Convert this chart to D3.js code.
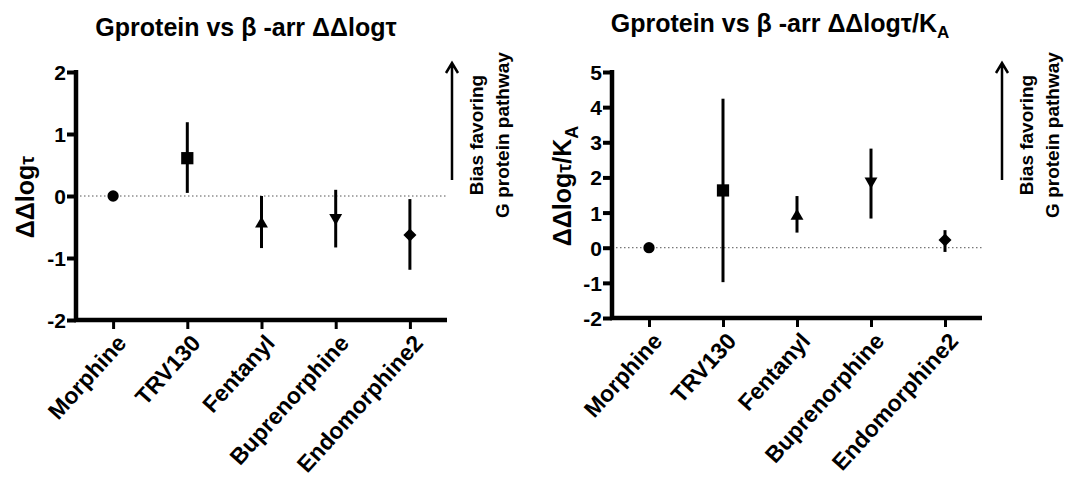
<!DOCTYPE html>
<html>
<head>
<meta charset="utf-8">
<script src="https://cdn.jsdelivr.net/npm/d3@7"></script>
<style>
  body { margin: 0; background: #fff; }
  svg { display: block; }
  text { font-family: Arial, "Liberation Sans", sans-serif; font-weight: bold; fill: #000; }
</style>
</head>
<body>
<svg id="chart" width="1067" height="481"></svg>
<script>
// categories and marker shapes
const drugs = ['Morphine', 'TRV130', 'Fentanyl', 'Buprenorphine', 'Endomorphine2'];
const shapes = ['circle', 'square', 'up', 'down', 'diamond'];

// left panel: ΔΔlogτ (mean, lower and upper error)
const tauMean = [0, 0.61, -0.45, -0.35, -0.63];
const tauLow = [0, 0.05, -0.84, -0.83, -1.19];
const tauHigh = [0, 1.19, 0.0, 0.1, -0.05];
const tauTicks = [-2, -1, 0, 1, 2];

// right panel: ΔΔlogτ/KA
const kaMean = [0, 1.63, 0.9, 1.89, 0.22];
const kaLow = [0, -0.98, 0.43, 0.83, -0.12];
const kaHigh = [0, 4.24, 1.47, 2.82, 0.5];
const kaTicks = [-2, -1, 0, 1, 2, 3, 4, 5];

const svg = d3.select('#chart');
const font = 'Arial, "Liberation Sans", sans-serif';

const symbolFor = (s) => {
  if (s === 'circle') return d3.symbol(d3.symbolCircle, 100)();
  if (s === 'square') return d3.symbol(d3.symbolSquare, 150)();
  if (s === 'diamond') return d3.symbol(d3.symbolSquare, 85)();
  return d3.symbol(d3.symbolTriangle, 72)();
};
const rotFor = (s) => (s === 'down' ? 180 : s === 'diamond' ? 45 : 0);

const drawPanel = (p) => {
  const g = svg.append('g');
  const x = d3.scalePoint().domain(drugs).range([p.left, p.right]).padding(0.5);
  const y = d3.scaleLinear().domain(d3.extent(p.ticks)).range([p.bottom, p.top]);

  // zero reference line
  g.append('line')
    .attr('x1', p.left).attr('x2', p.right)
    .attr('y1', y(0)).attr('y2', y(0))
    .attr('stroke', '#555').attr('stroke-width', 1)
    .attr('stroke-dasharray', '1.5,2.5');

  // y axis
  const ya = g.append('g')
    .attr('transform', `translate(${p.left},0)`)
    .call(d3.axisLeft(y).tickValues(p.ticks).tickSize(9).tickSizeOuter(0).tickFormat((d) => String(d)));
  ya.select('.domain').attr('stroke-width', 4.5).attr('d', `M0,${p.top - 2}V${p.bottom + 2}`);
  ya.selectAll('.tick line').attr('stroke-width', 4);
  ya.selectAll('.tick text').attr('font-size', 21).attr('x', -10).attr('dy', '0.36em')
    .style('font-family', font).style('font-weight', 'bold');

  // x axis
  const xa = g.append('g')
    .attr('transform', `translate(0,${p.bottom})`)
    .call(d3.axisBottom(x).tickSize(9).tickSizeOuter(0));
  xa.select('.domain').attr('stroke-width', 4.5).attr('d', `M${p.left - 2},0H${p.right}`);
  xa.selectAll('.tick line').attr('stroke-width', 3);
  xa.selectAll('.tick text')
    .attr('font-size', 23)
    .attr('text-anchor', 'end')
    .attr('x', 0).attr('y', 0).attr('dy', 0)
    .attr('transform', 'translate(14,24) rotate(-48)')
    .style('font-family', font).style('font-weight', 'bold');

  // error bars
  g.selectAll('.err')
    .data(drugs)
    .join('line')
    .attr('class', 'err')
    .attr('x1', (d) => x(d)).attr('x2', (d) => x(d))
    .attr('y1', (d, i) => y(p.low[i])).attr('y2', (d, i) => y(p.high[i]))
    .attr('stroke', '#000').attr('stroke-width', 3);

  // markers
  g.selectAll('.pt')
    .data(drugs)
    .join('path')
    .attr('class', 'pt')
    .attr('d', (d, i) => symbolFor(shapes[i]))
    .attr('transform', (d, i) => `translate(${x(d)},${y(p.mean[i])}) rotate(${rotFor(shapes[i])})`)
    .attr('fill', '#000');

  // title
  const t = g.append('text')
    .attr('x', p.titleX).attr('y', p.titleY)
    .attr('text-anchor', 'middle').attr('font-size', 25);
  t.append('tspan').text(p.title);
  if (p.sub) t.append('tspan').attr('font-size', 17).attr('dy', 6).text(p.sub);

  // y label, with a smaller tau as in the original symbol font
  const yl = g.append('text')
    .attr('transform', `translate(${p.ylabX},${p.ylabY}) rotate(-90)`)
    .attr('text-anchor', 'middle').attr('font-size', 25);
  yl.append('tspan').text('ΔΔlog');
  yl.append('tspan').attr('font-size', 20).text('τ');
  if (p.sub) {
    yl.append('tspan').text('/K');
    yl.append('tspan').attr('font-size', 18).attr('dy', 7).text(p.sub);
  }

  // bias arrow
  g.append('path')
    .attr('d', `M${p.arrowX},180V63M${p.arrowX - 6},73L${p.arrowX},63L${p.arrowX + 6},73`)
    .attr('fill', 'none').attr('stroke', '#000').attr('stroke-width', 2.5);
  const bt = g.append('text')
    .attr('transform', `translate(${p.arrowX + 31},135) rotate(-90)`)
    .attr('text-anchor', 'middle').attr('font-size', 19);
  bt.append('tspan').attr('x', 0).text('Bias favoring');
  bt.append('tspan').attr('x', 0).attr('dy', 26).text('G protein pathway');
};

drawPanel({
  left: 76, right: 447, top: 72, bottom: 320,
  ticks: tauTicks, mean: tauMean, low: tauLow, high: tauHigh,
  title: 'Gprotein vs β -arr ΔΔlogτ', titleX: 246, titleY: 36,
  ylabX: 34, ylabY: 197,
  arrowX: 452
});

drawPanel({
  left: 612, right: 982, top: 72, bottom: 318,
  ticks: kaTicks, mean: kaMean, low: kaLow, high: kaHigh,
  title: 'Gprotein vs β -arr ΔΔlogτ/K', sub: 'A', titleX: 780, titleY: 32,
  ylabX: 571, ylabY: 186,
  arrowX: 1002
});
</script>
</body>
</html>
